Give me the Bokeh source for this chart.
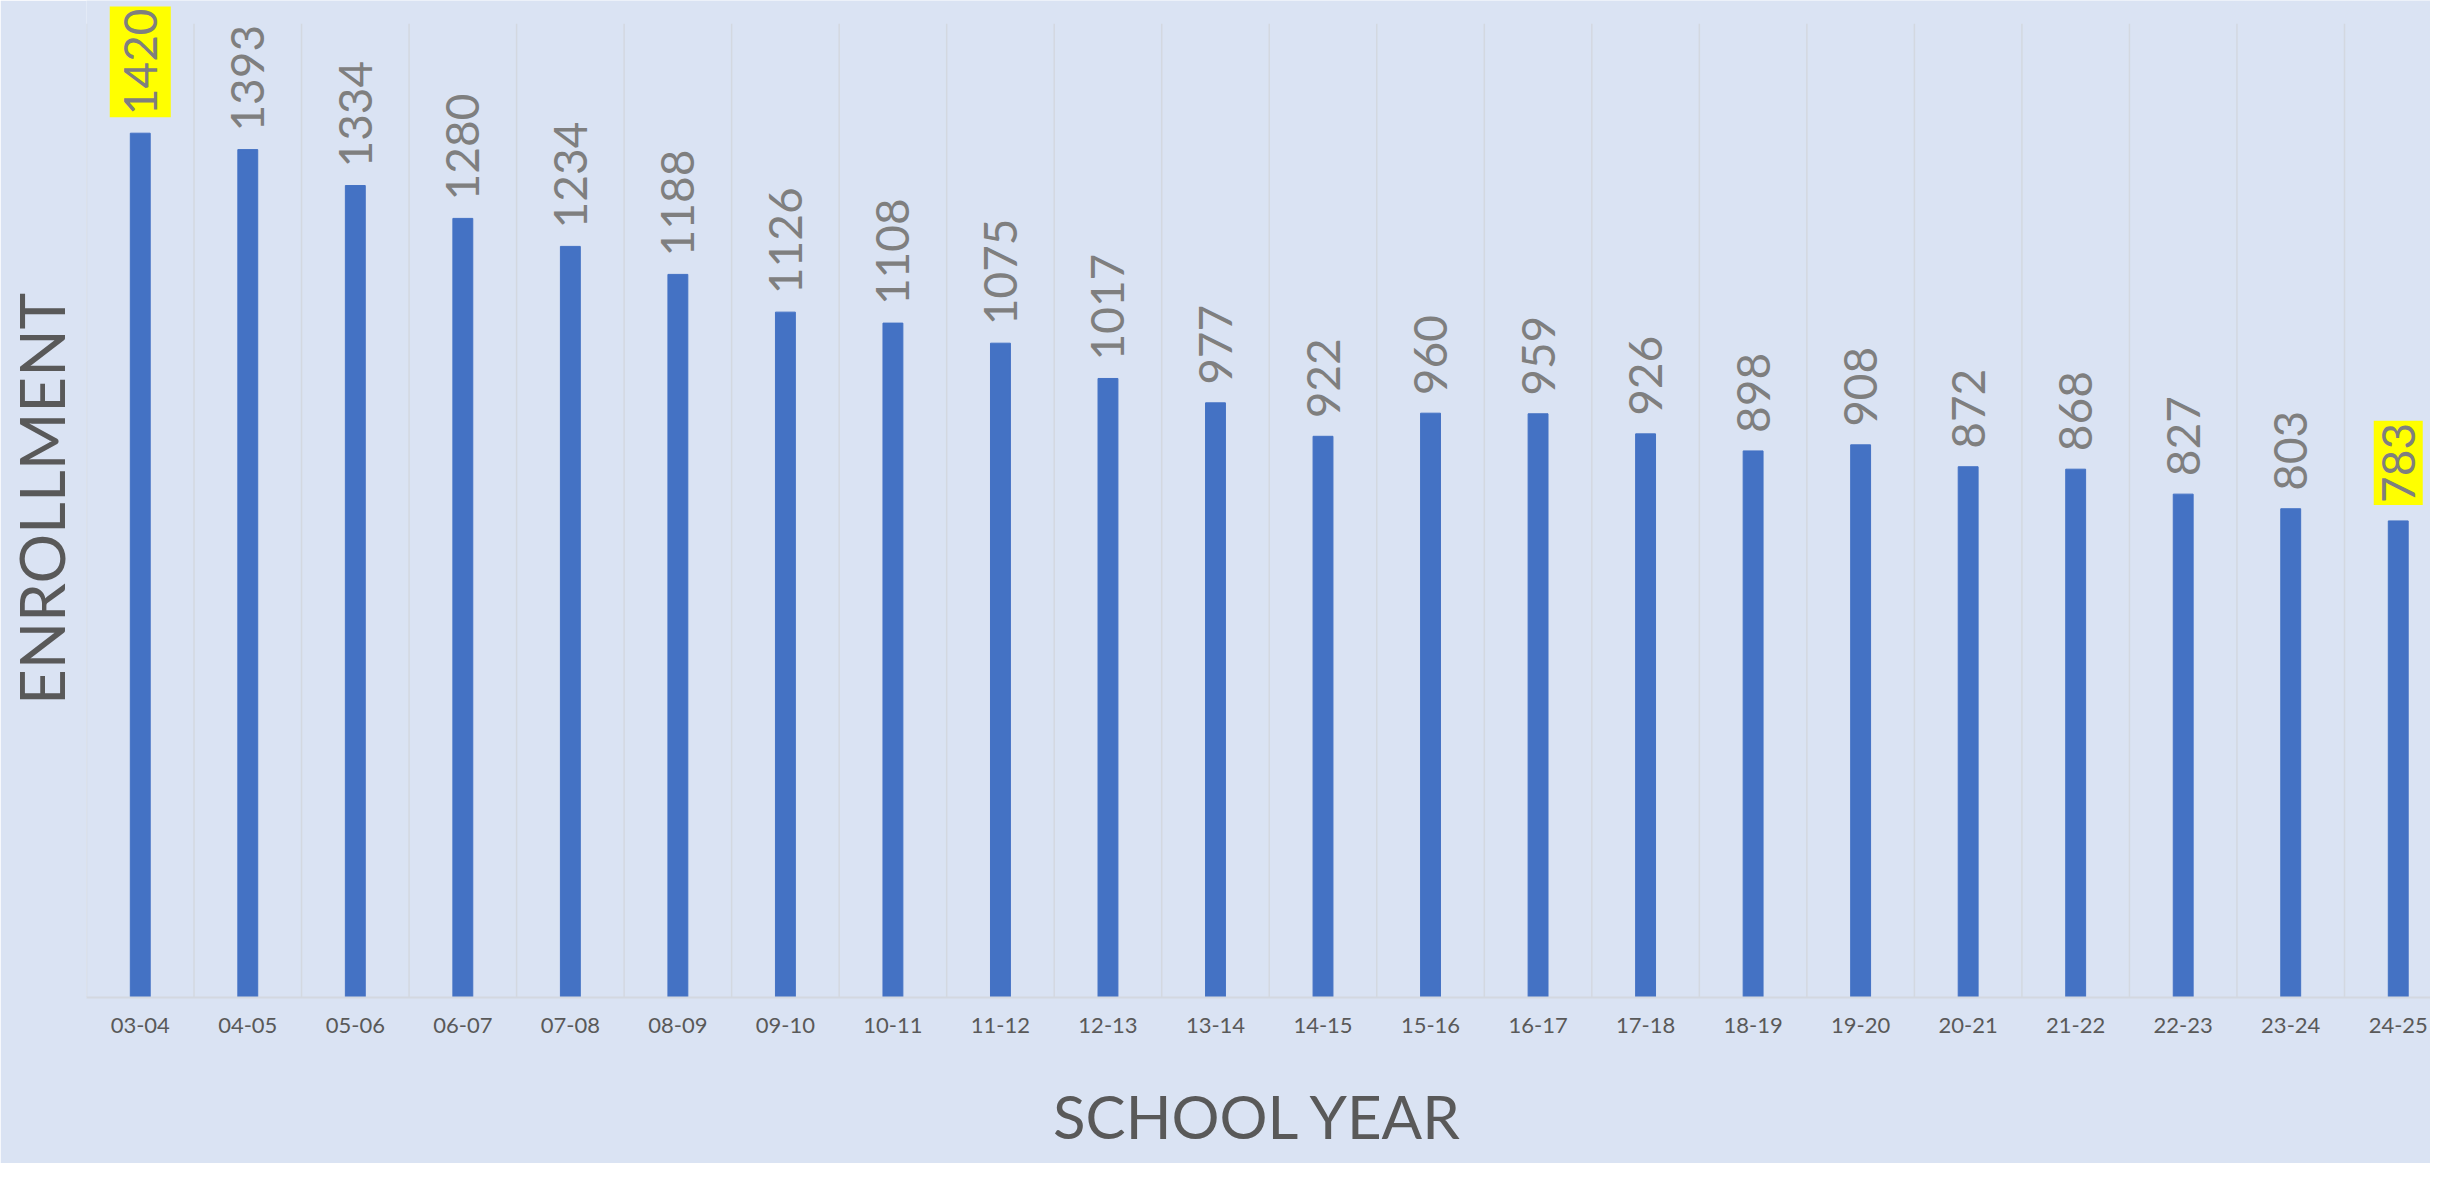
import math
from bokeh.plotting import figure
from bokeh.models import ColumnDataSource, FixedTicker, Range1d
from bokeh.core.properties import value
from bokeh.embed import file_html
from bokeh.resources import INLINE

# ---- data ----
school_years = ["03-04", "04-05", "05-06", "06-07", "07-08", "08-09", "09-10", "10-11",
                "11-12", "12-13", "13-14", "14-15", "15-16", "16-17", "17-18", "18-19",
                "19-20", "20-21", "21-22", "22-23", "23-24", "24-25"]
enrollment = [1420, 1393, 1334, 1280, 1234, 1188, 1126, 1108, 1075, 1017, 977,
              922, 960, 959, 926, 898, 908, 872, 868, 827, 803, 783]
highlighted_years = ["03-04", "24-25"]
y_axis_max = 1600

FONT = "Lato"
BG = "#dae3f3"
GRID = "#d3d8e0"

positions = list(range(len(school_years)))
src = ColumnDataSource(dict(x=positions, n=enrollment))
norm = [i for i, y in enumerate(school_years) if y not in highlighted_years]
src_norm = ColumnDataSource(dict(x=norm, n=[enrollment[i] for i in norm],
                                 label=[str(enrollment[i]) for i in norm]))
bounds = [i - 0.5 for i in range(len(school_years) + 1)]

p = figure(width=2430, height=1163, output_backend="svg", toolbar_location=None,
           x_range=Range1d(-0.5, 21.3), y_range=Range1d(0, 1638),
           min_border_left=86, min_border_right=0, min_border_top=0,
           min_border_bottom=166,
           background_fill_color=BG, border_fill_color=BG, outline_line_color=None)

# vertical separators between categories
p.segment(x0=bounds, y0=[0] * len(bounds), x1=bounds, y1=[y_axis_max] * len(bounds),
          line_color=GRID, line_width=1.5)

p.vbar(x="x", top="n", bottom=0, width=0.185, source=src,
       fill_color="#4472c4", line_color="#4472c4")

p.text(x="x", y="n", text="label", source=src_norm, angle=math.pi / 2,
       text_align="left", text_baseline="middle", y_offset=-18,
       text_font=value(FONT), text_font_size="46px", text_color="#7f7f7f")

# highlighted labels (yellow box); the last one is kept narrower so it fits the canvas
for yr in highlighted_years:
    i = school_years.index(yr)
    hs = ColumnDataSource(dict(x=[i], n=[enrollment[i]], label=[str(enrollment[i])]))
    pad = (2, 8) if i == len(school_years) - 1 else (2, 14)
    p.text(x="x", y="n", text="label", source=hs, angle=math.pi / 2,
           text_align="left", text_baseline="middle", y_offset=-16,
           text_font=value(FONT), text_font_size="46px", text_color="#7f7f7f",
           background_fill_color="#ffff00", padding=pad)

p.xgrid.grid_line_color = None
p.ygrid.grid_line_color = None

# x axis
xa = p.xaxis[0]
xa.ticker = FixedTicker(ticks=positions)
xa.major_label_overrides = {i: y for i, y in enumerate(school_years)}
xa.major_tick_out = 0
xa.major_tick_in = 0
xa.minor_tick_out = 0
xa.minor_tick_in = 0
xa.axis_line_color = GRID
xa.axis_line_width = 2
xa.major_label_text_font = FONT
xa.major_label_text_font_size = "22px"
xa.major_label_text_color = "#595959"
xa.major_label_standoff = 20
xa.axis_label = "SCHOOL YEAR"
xa.axis_label_text_font = FONT
xa.axis_label_text_font_size = "60px"
xa.axis_label_text_font_style = "normal"
xa.axis_label_text_color = "#595959"
xa.axis_label_standoff = 44

# y axis
ya = p.yaxis[0]
ya.ticker = FixedTicker(ticks=[])
ya.axis_line_color = None
ya.major_tick_out = 0
ya.major_tick_in = 0
ya.minor_tick_out = 0
ya.minor_tick_in = 0
ya.major_label_text_font_size = "0px"
ya.axis_label = "ENROLLMENT"
ya.axis_label_text_font = FONT
ya.axis_label_text_font_size = "62px"
ya.axis_label_text_font_style = "normal"
ya.axis_label_text_color = "#595959"
ya.axis_label_standoff = 9

open("out.html", "w").write(file_html(p, INLINE))
